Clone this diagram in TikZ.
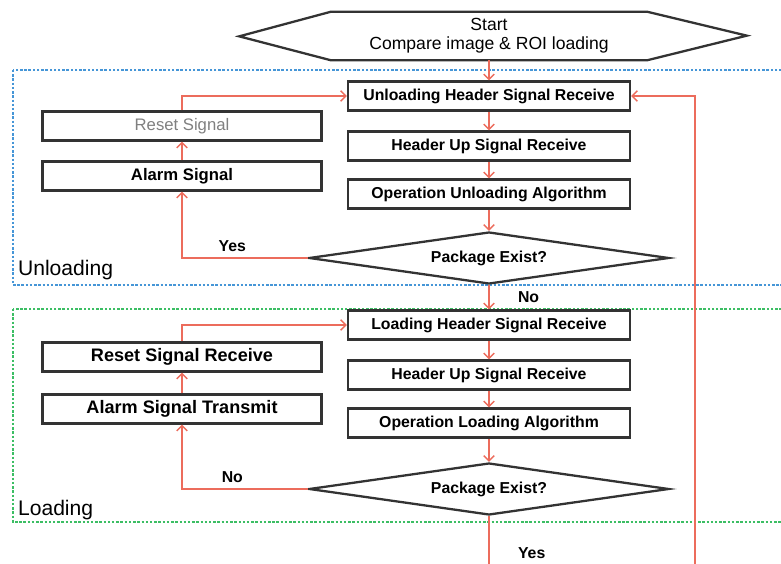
\documentclass[tikz,border=0pt]{standalone}
\usepackage{fontspec}
\setmainfont{Liberation Sans}
\usetikzlibrary{arrows.meta, positioning, calc, shapes.geometric}

\definecolor{flowred}{RGB}{236,108,92}
\definecolor{unloadblue}{RGB}{70,150,215}
\definecolor{loadgreen}{RGB}{60,190,100}

\begin{document}
\begin{tikzpicture}[
				x=0.02cm, y=-0.02cm,
				block/.style={rectangle, draw=black!80, line width=1.3pt, fill=white,
					minimum width=5.64cm, minimum height=0.58cm, align=center,
					font=\fontsize{9}{10}\selectfont\bfseries},
				sideblock/.style={block, minimum width=5.58cm, font=\fontsize{9.5}{11}\selectfont\bfseries},
				decision/.style={diamond, draw=black!80, line width=1.3pt, fill=white, aspect=7,
					minimum width=7.2cm, minimum height=1.04cm, inner sep=0pt,
					font=\fontsize{9}{10}\selectfont\bfseries},
				arrow/.style={-{Straight Barb[length=3pt,width=6pt]}, line width=0.8pt, draw=flowred},
				annot/.style={font=\fontsize{9}{10}\selectfont\bfseries},
				frame/.style={densely dotted, line width=1.4pt},
				region/.style={font=\fontsize{12}{14}\selectfont, anchor=west, inner sep=1pt}
				]
				\useasboundingbox (0,0) rectangle (781,564);
				\clip (0,0) rectangle (781,564);
				
				% --- Dotted frames of the two stages ---
				\draw[frame, draw=unloadblue] (13,70) rectangle (800,285);
				\draw[frame, draw=loadgreen] (13,309) rectangle (800,522);
				\node[region] (unlab) at (16,270) {Unloading};
				\node[region] (loadlab) at (16,510) {Loading};
				
				% --- Start (hexagon) ---
				\node[minimum width=6.3cm, minimum height=0.96cm, inner sep=0pt, align=center,
					font=\fontsize{10}{11}\selectfont] (start) at (489,36) {Start\\ Compare image \& ROI loading};
				\draw[draw=black!80, line width=1.3pt] (start.north west) -- (start.north east) -- ++(100,24)
					-- (start.south east) -- (start.south west) -- ++(-92,-24) -- cycle;
				
				% --- Unloading stage ---
				\node[block] (uhead) at (489,96) {Unloading Header Signal Receive};
				\node[block] (uup) at (489,146) {Header Up Signal Receive};
				\node[block] (ualgo) at (489,194) {Operation Unloading Algorithm};
				\node[decision] (uexist) at (489,258) {Package Exist?};
				\node[sideblock, font=\fontsize{9.5}{11}\selectfont, text=black!50] (ureset) at (182,126) {Reset Signal};
				\node[sideblock] (ualarm) at (182,176) {Alarm Signal};
				
				\draw[arrow] (start) -- (uhead);
				\draw[arrow] (uhead) -- (uup);
				\draw[arrow] (uup) -- (ualgo);
				\draw[arrow] (ualgo) -- (uexist);
				\draw[arrow] (uexist.west) -| node[annot, above, pos=0.3] {Yes} (ualarm.south);
				\draw[arrow] (ualarm) -- (ureset);
				\draw[arrow] (ureset.north) |- (uhead.west);
				
				% --- Loading stage ---
				\node[block] (lhead) at (489,325) {Loading Header Signal Receive};
				\node[block] (lup) at (489,375) {Header Up Signal Receive};
				\node[block] (lalgo) at (489,423) {Operation Loading Algorithm};
				\node[decision] (lexist) at (489,489) {Package Exist?};
				\node[sideblock, font=\fontsize{10.3}{12}\selectfont\bfseries] (lreset) at (182,357) {Reset Signal Receive};
				\node[sideblock, font=\fontsize{10.3}{12}\selectfont\bfseries] (lalarm) at (182,409) {Alarm Signal Transmit};
				
				\draw[arrow] (uexist) -- node[annot, right=0.45cm] {No} (lhead);
				\draw[arrow] (lhead) -- (lup);
				\draw[arrow] (lup) -- (lalgo);
				\draw[arrow] (lalgo) -- (lexist);
				\draw[arrow] (lexist.west) -| node[annot, above, pos=0.3] {No} (lalarm.south);
				\draw[arrow] (lalarm) -- (lreset);
				\draw[arrow] (lreset.north) |- (lhead.west);
				
				% --- Loop back to the unloading stage ---
				\coordinate (loopa) at (489,600);
				\coordinate (loopb) at (695,600);
				\draw[arrow] (lexist.south) -- node[annot, right=0.45cm, pos=0.44] {Yes} (loopa) -- (loopb) |- (uhead.east);
			\end{tikzpicture}
\end{document}
